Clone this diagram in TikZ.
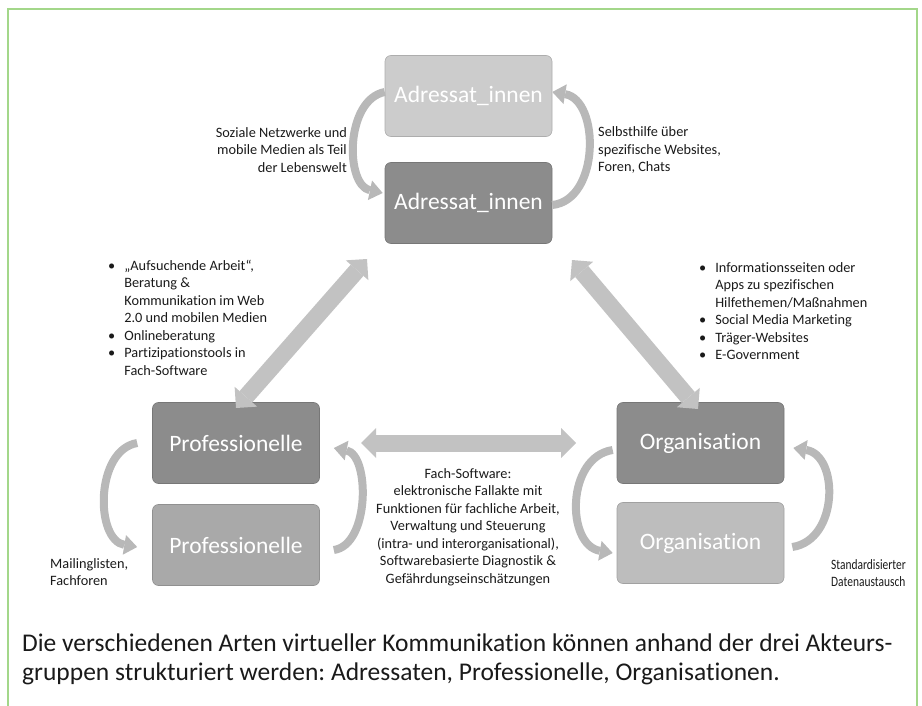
\documentclass[tikz,border=0pt]{standalone}
\usepackage{fontspec}
\setmainfont[Ligatures=NoCommon]{Carlito}
\usetikzlibrary{arrows.meta,calc}
\definecolor{framegreen}{HTML}{A3D78A}
\definecolor{boxlight}{HTML}{CCCCCC}
\definecolor{boxdark}{HTML}{8C8C8C}
\definecolor{boxmid}{HTML}{A9A9A9}
\definecolor{boxpale}{HTML}{BDBDBD}
\definecolor{arrgray}{HTML}{C2C2C2}
\definecolor{curvgray}{HTML}{B8B8B8}
\definecolor{txt}{HTML}{1A1A1A}
\frenchspacing
\begin{document}
\begin{tikzpicture}[x=1pt,y=-1pt,
 actor/.style={rectangle, rounded corners=6pt, minimum width=167pt, minimum height=81pt,
   text=white, font=\fontsize{23.5}{27}\selectfont, inner sep=0pt,
   draw=#1!85!black, fill=#1, line width=0.6pt},
 lbl/.style={text=txt, font=\fontsize{14.3}{17.5}\selectfont, inner sep=0pt},
 block/.style={draw=arrgray, line width=17pt,
   {Triangle[width=30pt,length=15pt,line width=0pt]}-{Triangle[width=30pt,length=15pt,line width=0pt]}},
 curv/.style={draw=curvgray, line width=8pt,
   -{Triangle[width=20pt,length=13pt,line width=0pt]}},
]
\useasboundingbox (0,0) rectangle (922,706);
\draw[framegreen, line width=1.5pt] (8,706) -- (8,9) -- (917,9) -- (917,706);

% actor boxes
\node[actor=boxlight] (A1) at (468.5,96) {Adressat\_innen};
\node[actor=boxdark] (A2) at (468.5,203) {Adressat\_innen};
\node[actor=boxdark] (P1) at (236,443) {Professionelle};
\node[actor=boxmid] (P2) at (236,545) {Professionelle};
\node[actor=boxdark] (O1) at (700.5,443) {Organisation};
\node[actor=boxpale] (O2) at (700.5,543) {Organisation};

% curved arrows
\draw[curv] ([yshift=4pt]A1.west) .. controls (345,100) and (345,185) .. ([xshift=-2pt,yshift=10pt]A2.west);
\draw[curv] ([yshift=-2pt]A2.east) .. controls (600,200) and (600,100) .. ([yshift=4pt]A1.east);
\draw[curv] ([xshift=-15pt]P1.west) .. controls (95,450) and (95,540) .. ([xshift=-15pt,yshift=-2pt]P2.west);
\draw[curv] ([xshift=14pt,yshift=-5pt]P2.east) .. controls (370,545) and (370,455) .. ([xshift=14pt,yshift=-5pt]P1.east);
\draw[curv] ([xshift=-4pt,yshift=-7pt]O1.west) .. controls (566,457) and (566,545) .. ([xshift=-4pt,yshift=-10pt]O2.west);
\draw[curv] ([xshift=8pt,yshift=-4pt]O2.east) .. controls (839,540) and (839,455) .. ([xshift=9pt,yshift=-5pt]O1.east);

% block arrows
\coordinate (h1) at (361,443);
\coordinate (h2) at (576,443);
\coordinate (d1) at (236,408);
\coordinate (d2) at (367,259);
\coordinate (d3) at (572,260);
\coordinate (d4) at (698,409);
\draw[block] (h1) -- (h2);
\draw[block] (d1) -- (d2);
\draw[block] (d3) -- (d4);

% labels
\node[lbl, align=right, anchor=east] (la) at (347,150) {Soziale Netzwerke und\\mobile Medien als Teil\\der Lebenswelt};
\node[lbl, align=left, anchor=west] (lb) at (598,150) {Selbsthilfe über\\spezifische Websites,\\Foren, Chats};
\node[lbl, align=left, anchor=west] (lc) at (50,572) {Mailinglisten,\\Fachforen};
\node[lbl, align=left, anchor=west] (ld) at (831,573) {\scalebox{0.8}[1]{Standardisierter}\\\scalebox{0.8}[1]{Datenaustausch}};
\node[lbl, align=center] (le) at (468,527) {Fach-Software:\\elektronische Fallakte mit\\Funktionen für fachliche Arbeit,\\Verwaltung und Steuerung\\(intra- und interorganisational),\\Softwarebasierte Diagnostik \&\\Gefährdungseinschätzungen};
\node[lbl, anchor=north west] (lf) at (108,258) {\begin{tabular}{@{}l@{\hspace{9pt}}l@{}}
•&„Aufsuchende Arbeit“,\\
&Beratung \&\\
&Kommunikation im Web\\
&2.0 und mobilen Medien\\
•&Onlineberatung\\
•&Partizipationstools in\\
&Fach-Software\end{tabular}};
\node[lbl, anchor=north west] (lg) at (699,260) {\begin{tabular}{@{}l@{\hspace{9pt}}l@{}}
•&Informationsseiten oder\\
&Apps zu spezifischen\\
&Hilfethemen/Maßnahmen\\
•&Social Media Marketing\\
•&Träger-Websites\\
•&E-Government\end{tabular}};

% caption
\node[anchor=west, align=left, inner sep=0pt, text=txt, font=\fontsize{25.5}{29}\selectfont] (cap) at (22,659)
 {Die verschiedenen Arten virtueller Kommunikation können anhand der drei Akteurs-\\gruppen strukturiert werden: Adressaten, Professionelle, Organisationen.};
\end{tikzpicture}
\end{document}
